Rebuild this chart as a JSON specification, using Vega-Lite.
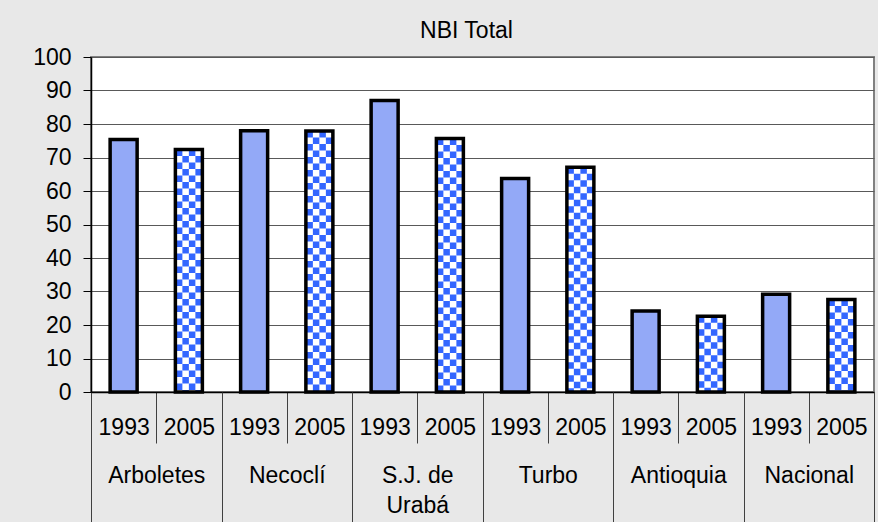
{
  "$schema": "https://vega.github.io/schema/vega-lite/v6.json",
  "width": 783,
  "height": 335,
  "autosize": {"type": "none"},
  "padding": {"left": 91, "top": 57, "right": 4, "bottom": 130},
  "background": "#e8e8e8",
  "config": {
    "font": "Liberation Sans",
    "view": {"fill": "white", "stroke": "#808080", "strokeWidth": 2}
  },
  "title": {
    "text": "NBI Total",
    "fontSize": 23,
    "fontWeight": "normal",
    "color": "black",
    "font": "Liberation Sans",
    "anchor": "middle",
    "frame": "group",
    "baseline": "alphabetic",
    "offset": 19,
    "dy": 34,
    "dx": -16
  },
  "data": {
    "values": [
      {"group": "Arboletes", "year": "1993", "key": "Arboletes|1993", "value": 75.4},
      {"group": "Arboletes", "year": "2005", "key": "Arboletes|2005", "value": 72.4},
      {"group": "Necoclí", "year": "1993", "key": "Necoclí|1993", "value": 78.0},
      {"group": "Necoclí", "year": "2005", "key": "Necoclí|2005", "value": 77.9},
      {"group": "S.J. de Urabá", "year": "1993", "key": "S.J. de Urabá|1993", "value": 87.0},
      {"group": "S.J. de Urabá", "year": "2005", "key": "S.J. de Urabá|2005", "value": 75.7},
      {"group": "Turbo", "year": "1993", "key": "Turbo|1993", "value": 63.7},
      {"group": "Turbo", "year": "2005", "key": "Turbo|2005", "value": 67.1},
      {"group": "Antioquia", "year": "1993", "key": "Antioquia|1993", "value": 24.2},
      {"group": "Antioquia", "year": "2005", "key": "Antioquia|2005", "value": 22.6},
      {"group": "Nacional", "year": "1993", "key": "Nacional|1993", "value": 29.2},
      {"group": "Nacional", "year": "2005", "key": "Nacional|2005", "value": 27.6}
    ]
  },
  "layer": [
    {
      "encoding": {
        "x": {
          "field": "key",
          "type": "nominal",
          "sort": null,
          "scale": {"type": "band", "paddingInner": 0, "paddingOuter": 0},
          "axis": {
            "title": null,
            "orient": "bottom",
            "domain": true,
            "domainColor": "black",
            "domainWidth": 1.5,
            "ticks": true,
            "tickBand": "extent",
            "tickSize": 51,
            "tickColor": "#404040",
            "tickWidth": 1,
            "labelExpr": "split(datum.value, '|')[1]",
            "labelFontSize": 23,
            "labelColor": "black",
            "labelAngle": 0,
            "labelBaseline": "top",
            "labelPadding": -26.5,
            "labelOverlap": false,
            "grid": false
          }
        },
        "y": {
          "field": "value",
          "type": "quantitative",
          "scale": {"domain": [0, 100], "nice": false},
          "axis": {
            "title": null,
            "values": [0, 10, 20, 30, 40, 50, 60, 70, 80, 90, 100],
            "domainColor": "black",
            "domainWidth": 1.5,
            "tickColor": "black",
            "tickSize": 8,
            "labelFontSize": 23,
            "labelColor": "black",
            "labelPadding": 12,
            "grid": true,
            "gridColor": "#595959",
            "gridWidth": 1
          }
        }
      },
      "layer": [
        {
          "mark": {"type": "bar", "size": 27},
          "encoding": {
            "fill": {"condition": {"test": "datum.year == '1993'", "value": "#93a9f7"}, "value": "white"}
          }
        },
        {
          "mark": {"type": "rule", "strokeWidth": 6.5, "strokeDash": [6.5, 6.5], "strokeDashOffset": 0, "xOffset": -9.75},
          "encoding": {
            "y2": {"datum": 0},
            "stroke": {"condition": {"test": "datum.year == '2005'", "value": "#3366ff"}, "value": "transparent"}
          }
        },
        {
          "mark": {"type": "rule", "strokeWidth": 6.5, "strokeDash": [6.5, 6.5], "strokeDashOffset": 6.5, "xOffset": -3.25},
          "encoding": {
            "y2": {"datum": 0},
            "stroke": {"condition": {"test": "datum.year == '2005'", "value": "#3366ff"}, "value": "transparent"}
          }
        },
        {
          "mark": {"type": "rule", "strokeWidth": 6.5, "strokeDash": [6.5, 6.5], "strokeDashOffset": 0, "xOffset": 3.25},
          "encoding": {
            "y2": {"datum": 0},
            "stroke": {"condition": {"test": "datum.year == '2005'", "value": "#3366ff"}, "value": "transparent"}
          }
        },
        {
          "mark": {"type": "rule", "strokeWidth": 6.5, "strokeDash": [6.5, 6.5], "strokeDashOffset": 6.5, "xOffset": 9.75},
          "encoding": {
            "y2": {"datum": 0},
            "stroke": {"condition": {"test": "datum.year == '2005'", "value": "#3366ff"}, "value": "transparent"}
          }
        },
        {
          "mark": {"type": "bar", "size": 27, "fillOpacity": 0, "stroke": "black", "strokeWidth": 3.5}
        }
      ]
    },
    {
      "mark": {"type": "rule", "strokeOpacity": 0},
      "encoding": {
        "x": {
          "field": "group",
          "type": "nominal",
          "sort": null,
          "scale": {"type": "band", "paddingInner": 0, "paddingOuter": 0},
          "axis": {
            "title": null,
            "orient": "bottom",
            "domain": false,
            "ticks": true,
            "tickBand": "extent",
            "tickSize": 130,
            "tickColor": "#404040",
            "tickWidth": 1,
            "labelExpr": "datum.value == 'S.J. de Urabá' ? ['S.J. de', 'Urabá'] : datum.value",
            "labelFontSize": 23,
            "labelColor": "black",
            "labelAngle": 0,
            "labelBaseline": "top",
            "labelPadding": -58,
            "labelLineHeight": 30,
            "labelOverlap": false,
            "grid": false
          }
        }
      }
    }
  ],
  "resolve": {"scale": {"x": "independent"}}
}
